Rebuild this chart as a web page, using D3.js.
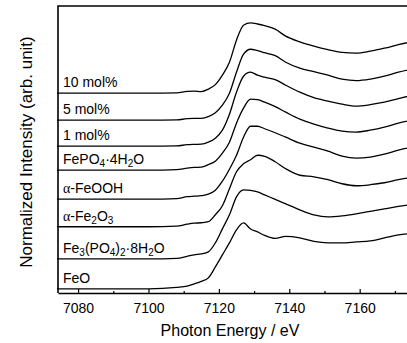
<!DOCTYPE html>
<html>
<head>
<meta charset="utf-8">
<script src="https://cdn.jsdelivr.net/npm/d3@7"></script>
<style>
  body { margin: 0; background: #fff; }
  text { font-family: "Liberation Sans", Arial, sans-serif; fill: #000; }
</style>
</head>
<body>
<script>
// photon energy grid (eV) shared by all spectra
var energies = [7074, 7100, 7108, 7111, 7113, 7115, 7117, 7119, 7121, 7123, 7125, 7127, 7129,
                7131, 7133, 7136, 7139, 7143, 7147, 7151, 7155, 7159, 7163, 7167, 7171, 7176];

// normalized intensity (before vertical offset)
var feO       = [0, 0, 0.029, 0.055, 0.098, 0.147, 0.216, 0.431, 0.667, 0.902, 1.157, 1.294, 1.176,
                 1.118, 1.049, 0.990, 1.029, 1.000, 0.931, 0.902, 0.902, 0.922, 0.941, 1.000, 1.059, 1.098];
var fe3po4    = [0, 0, 0.010, 0.049, 0.078, 0.098, 0.137, 0.314, 0.588, 0.863, 1.216, 1.353, 1.343,
                 1.314, 1.255, 1.167, 1.078, 0.961, 0.863, 0.824, 0.843, 0.882, 0.931, 0.980, 1.029, 1.078];
var fe2o3     = [0, 0, 0.010, 0.049, 0.069, 0.078, 0.098, 0.235, 0.412, 0.745, 1.078, 1.235, 1.314,
                 1.402, 1.382, 1.275, 1.137, 1.010, 0.980, 0.922, 0.843, 0.804, 0.824, 0.863, 0.922, 0.980];
var feooh     = [0, 0, 0.010, 0.049, 0.059, 0.069, 0.098, 0.176, 0.353, 0.588, 0.863, 1.216, 1.431,
                 1.431, 1.382, 1.304, 1.216, 1.098, 1.020, 0.941, 0.843, 0.804, 0.824, 0.882, 0.961, 1.039];
var fepo4     = [0, 0, 0.010, 0.039, 0.053, 0.059, 0.108, 0.176, 0.333, 0.549, 0.922, 1.216, 1.392,
                 1.382, 1.333, 1.245, 1.137, 1.000, 0.902, 0.824, 0.765, 0.745, 0.784, 0.843, 0.922, 1.000];
var mol1      = [0, 0, 0.006, 0.029, 0.035, 0.039, 0.078, 0.157, 0.314, 0.627, 1.059, 1.373, 1.451,
                 1.392, 1.353, 1.304, 1.196, 1.059, 0.951, 0.882, 0.824, 0.784, 0.814, 0.863, 0.931, 1.020];
var mol5      = [0, 0, 0.006, 0.029, 0.035, 0.035, 0.069, 0.147, 0.294, 0.529, 0.941, 1.294, 1.392,
                 1.363, 1.324, 1.265, 1.137, 1.020, 0.951, 0.882, 0.804, 0.775, 0.804, 0.863, 0.941, 1.020];
var mol10     = [0, 0, 0.006, 0.035, 0.039, 0.031, 0.078, 0.167, 0.353, 0.608, 1.039, 1.333, 1.378,
                 1.357, 1.324, 1.255, 1.118, 1.006, 0.922, 0.853, 0.800, 0.784, 0.824, 0.882, 0.951, 1.029];

// bottom to top; "_n" marks a subscript
var labels  = ["FeO", "Fe_3(PO_4)_2·8H_2O", "α-Fe_2O_3", "α-FeOOH", "FePO_4·4H_2O", "1 mol%", "5 mol%", "10 mol%"];
var offsets = [0, 0.59, 1.22, 1.76, 2.33, 2.80, 3.31, 3.84];
var spectra = [feO, fe3po4, fe2o3, feooh, fepo4, mol1, mol5, mol10];

var xMajor = [7080, 7100, 7120, 7140, 7160];
var xMinor = [7090, 7110, 7130, 7150, 7170];

var width = 407, height = 343;
var plotLeft = 58, plotTop = 6, plotBottom = 293, plotRight = 416;

var svg = d3.select("body")
  .append("svg")
    .attr("width", width)
    .attr("height", height);

var x = d3.scaleLinear()
    .domain([7074.3, 7176])
    .range([plotLeft, plotRight]);
var y = d3.scaleLinear()
    .domain([-0.08, 5.55])
    .range([plotBottom, plotTop]);

var line = d3.line()
    .x(function(d) { return x(d[0]); })
    .y(function(d) { return y(d[1]); })
    .curve(d3.curveMonotoneX);

svg.append("g")
  .selectAll("path")
    .data(spectra)
  .enter().append("path")
    .attr("fill", "none")
    .attr("stroke", "#000")
    .attr("stroke-width", 1.3)
    .attr("d", function(s, i) {
      return line(s.map(function(v, j) { return [energies[j], v + offsets[i]]; }));
    });

// frame: top and left
svg.append("path")
    .attr("fill", "none")
    .attr("stroke", "#000")
    .attr("stroke-width", 1.6)
    .attr("d", "M" + plotRight + "," + plotTop + "H" + plotLeft + "V" + plotBottom);

// minor ticks
svg.append("g")
    .attr("transform", "translate(0," + plotBottom + ")")
    .call(d3.axisBottom(x).tickValues(xMinor).tickSize(-2).tickFormat(""))
    .call(function(g) { g.select(".domain").remove(); })
    .selectAll("line").attr("stroke-width", 1.2);

var xAxis = svg.append("g")
    .attr("transform", "translate(0," + plotBottom + ")")
    .call(d3.axisBottom(x).tickValues(xMajor).tickSizeInner(-4).tickSizeOuter(0)
      .tickPadding(10).tickFormat(d3.format("d")));
xAxis.select(".domain").attr("stroke-width", 1.6);
xAxis.selectAll("line").attr("stroke-width", 1.2);
xAxis.selectAll("text")
    .style("font-family", "'Liberation Sans', Arial, sans-serif")
    .style("font-size", "14px");

svg.append("text")
    .attr("x", 230)
    .attr("y", 336)
    .attr("text-anchor", "middle")
    .style("font-size", "16px")
    .text("Photon Energy / eV");

svg.append("text")
    .attr("transform", "translate(32,152) rotate(-90)")
    .attr("text-anchor", "middle")
    .style("font-size", "17px")
    .text("Normalized Intensity (arb. unit)");

// sample labels with subscripts
function writeLabel(t, str) {
  var parts = str.split(/(_\d)/);
  var shifted = false;
  parts.forEach(function(p) {
    if (!p) return;
    if (p[0] === "_") {
      t.append("tspan").attr("dy", 3).style("font-size", "10px").text(p.slice(1));
      shifted = true;
      return;
    }
    p.split(/(α)/).forEach(function(q) {
      if (!q) return;
      var ts = t.append("tspan").text(q);
      if (shifted) { ts.attr("dy", -3); shifted = false; }
      if (q === "α") ts.style("font-family", "'Liberation Serif', serif");
    });
  });
}

svg.append("g")
  .selectAll("text")
    .data(labels)
  .enter().append("text")
    .attr("x", 63)
    .attr("y", function(d, i) { return y(offsets[i]) - 6; })
    .style("font-size", "14px")
    .each(function(d) { writeLabel(d3.select(this), d); });
</script>
</body>
</html>
